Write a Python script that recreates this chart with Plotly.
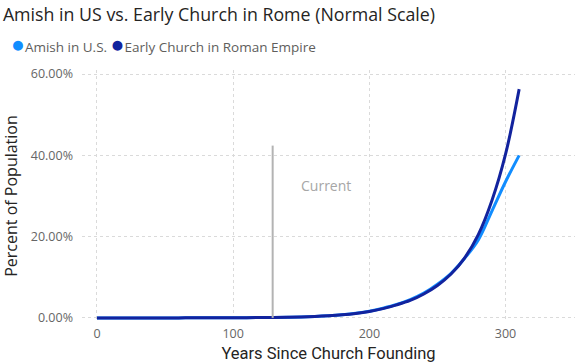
import plotly.graph_objects as go

years = list(range(0, 320, 10))
early_church = [0.0017, 0.0023, 0.0033, 0.0046, 0.0064, 0.0090, 0.0126, 0.0176, 0.0246, 0.0345,
                0.0483, 0.0676, 0.0946, 0.132, 0.185, 0.26, 0.37, 0.53, 0.76, 1.1,
                1.6, 2.3, 3.2, 4.3, 5.9, 8.0, 10.8, 14.8, 20.5, 28.9, 40.3, 56.3]
amish = [0.0017, 0.0023, 0.0033, 0.0046, 0.0064, 0.0090, 0.0126, 0.0176, 0.0246, 0.0345,
         0.0483, 0.0676, 0.0946, 0.132, 0.185, 0.26, 0.38, 0.55, 0.8, 1.15,
         1.65, 2.4, 3.3, 4.5, 6.1, 8.3, 11.0, 14.7, 19.2, 26.3, 33.5, 40.0]
current_year = 129
current_top = 42.4
x_ticks = [0, 100, 200, 300]
y_ticks = [0, 20, 40, 60]
series_names = ["Amish in U.S.", "Early Church in Roman Empire"]
series_colors = ["#118DFF", "#12239E"]

W, H = 576, 363
ML, MR, MT, MB = 82, 1, 70, 41

fig = go.Figure()
for name, color, vals in zip(series_names, series_colors, [amish, early_church]):
    fig.add_trace(go.Scatter(x=years, y=[v / 100 for v in vals], name=name, mode="lines",
                             line=dict(color=color, width=3, shape="spline"), showlegend=False))
fig.add_trace(go.Scatter(x=[current_year, current_year], y=[0, current_top / 100], mode="lines",
                         line=dict(color="#B3B3B3", width=2), showlegend=False, hoverinfo="skip"))
fig.add_annotation(x=current_year + 19, y=0.325, text="Current", showarrow=False, xanchor="left",
                   font=dict(family="Open Sans", size=14, color="#A6A6A6"))

# legend drawn as text: coloured dot + series name
legend_text = " ".join(
    f"<span style='color:{c}; font-size:23px'>●</span>{n}" for n, c in zip(series_names, series_colors)
)
plot_w = W - ML - MR
plot_h = H - MT - MB
fig.add_annotation(x=(9 - ML) / plot_w, y=(H - 43 - MB) / plot_h, xref="paper", yref="paper",
                   text=legend_text, showarrow=False, xanchor="left", yanchor="middle",
                   font=dict(family="Open Sans", size=13.5, color="#605E5C"))

fig.update_layout(
    width=W, height=H,
    margin=dict(l=ML, r=MR, t=MT, b=MB),
    paper_bgcolor="white", plot_bgcolor="white",
    showlegend=False,
    title=dict(text="Amish in US vs. Early Church in Rome (Normal Scale)", x=0.005, xref="container",
               y=0.958, yref="container", yanchor="middle", xanchor="left",
               font=dict(family="Open Sans", size=17.8, color="#252423")),
    xaxis=dict(range=[-11, 351], tickvals=x_ticks, showgrid=True, gridcolor="#DADADA", griddash="dot",
               gridwidth=1, zeroline=False, showline=False, automargin=False, ticklabelstandoff=2,
               tickfont=dict(family="Open Sans", size=12.5, color="#666666"),
               title=dict(text="Years Since Church Founding", standoff=8,
                          font=dict(family="Roboto", size=16.5, color="#252423"))),
    yaxis=dict(range=[-0.01, 0.61], tickvals=[v / 100 for v in y_ticks], tickformat=".2%",
               showgrid=True, gridcolor="#DADADA", griddash="dot", gridwidth=1, zeroline=False,
               automargin=False, ticklabelstandoff=8,
               tickfont=dict(family="Open Sans", size=12.5, color="#666666"),
               title=dict(text="Percent of Population", standoff=14,
                          font=dict(family="Open Sans", size=16, color="#252423"))),
)
fig.write_html("out.html", config={"displayModeBar": False},
               post_script="document.body.style.margin='0';")
